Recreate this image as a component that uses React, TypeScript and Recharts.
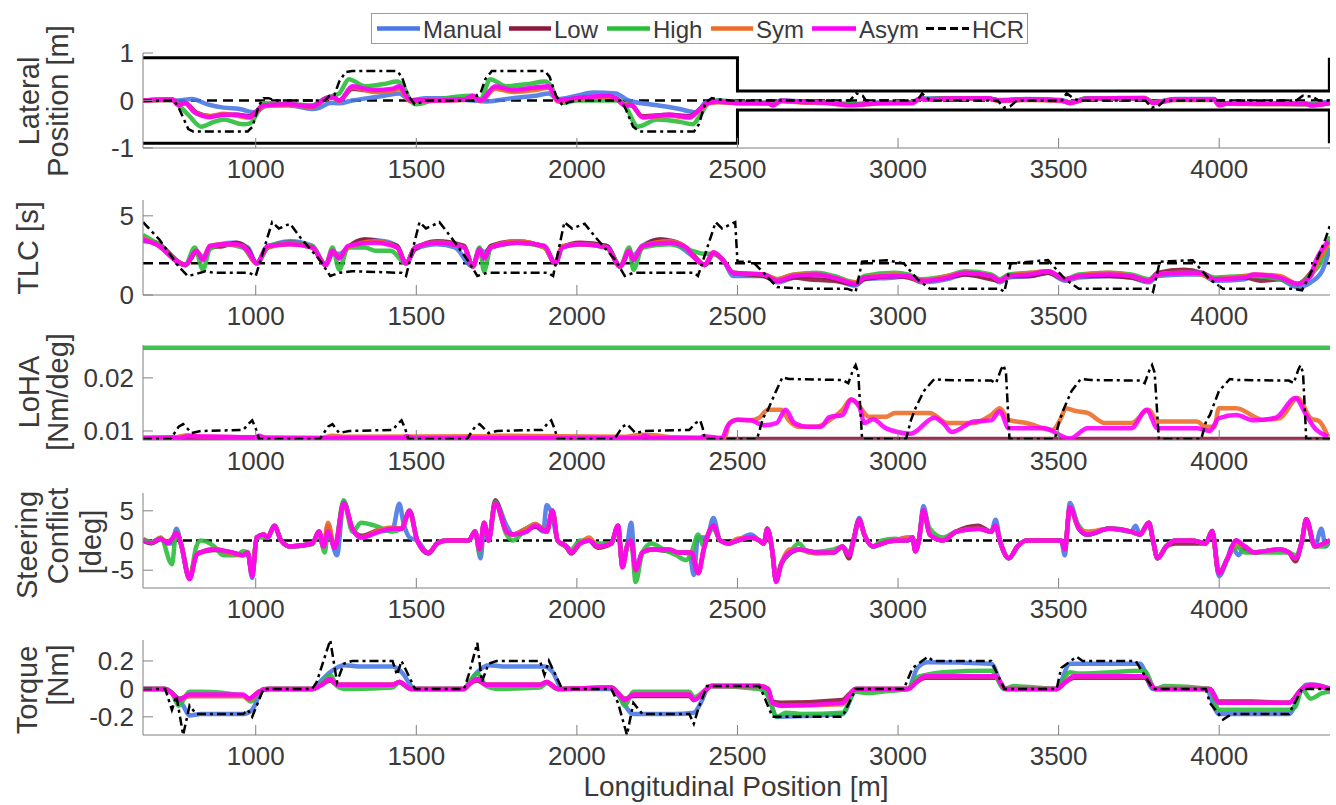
import React from 'react';
import { LineChart, Line, XAxis, YAxis, ReferenceLine } from 'recharts';

type P = [number, number][];

const FONT = '"Liberation Sans", Arial, sans-serif';
const X_MIN = 649;
const X_MAX = 4345;
const xTicks = [1000, 1500, 2000, 2500, 3000, 3500, 4000];

const seriesNames = ['Manual', 'Low', 'High', 'Sym', 'Asym', 'HCR'];
const seriesColors = ['#4a78e6', '#8c183c', '#2cbd3c', '#ec6e2a', '#ff00ff', '#000000'];

// ---------- Panel 1: Lateral position ----------
const latBoundUpper: P = [[649, 0.9], [2500, 0.9], [2500, 0.2], [4343, 0.2], [4343, 0.9]];
const latBoundLower: P = [[649, -0.9], [2500, -0.9], [2500, -0.2], [4343, -0.2], [4343, -0.9]];
const latHCR: P = [[649,0],[745,0],[760,-0.15],[790,-0.6],[805,-0.65],[975,-0.65],[990,-0.55],[1010,-0.1],[1025,0.05],[1040,0.05],[1060,0],[1215,0],[1230,0.1],[1245,0.12],[1260,0.4],[1280,0.6],[1300,0.62],[1440,0.62],[1455,0.5],[1475,0.1],[1495,-0.08],[1510,-0.05],[1530,0],[1680,0],[1690,0.12],[1700,0.15],[1715,0.45],[1735,0.62],[1900,0.62],[1915,0.5],[1935,0.1],[1955,-0.1],[1975,-0.03],[2000,0],[2135,0],[2150,-0.15],[2175,-0.55],[2195,-0.65],[2365,-0.65],[2380,-0.5],[2400,-0.05],[2420,0.05],[2440,0.02],[2480,0],[2850,0],[2870,0.15],[2890,0.1],[2900,0],[3060,0],[3075,0.15],[3090,0.05],[3100,0],[3310,0],[3330,-0.15],[3350,-0.12],[3370,0],[3510,0],[3525,0.15],[3545,0.05],[3560,0],[3770,0],[3790,-0.15],[3810,-0.12],[3830,0],[4240,0],[4260,0.1],[4290,0.08],[4310,0],[4345,0]];
const latManual: P = [[649,0],[700,0.01],[760,0],[801,0.03],[850,-0.08],[900,-0.15],[950,-0.18],[996,-0.25],[1037,-0.1],[1100,-0.1],[1176,-0.18],[1200,-0.15],[1232,-0.05],[1260,-0.06],[1300,0.0],[1350,0.05],[1400,0.1],[1447,0.15],[1482,0.0],[1530,0.05],[1600,0.05],[1676,0.0],[1718,-0.02],[1800,0.05],[1870,0.1],[1913,0.15],[1940,0.03],[2000,0.1],[2050,0.17],[2121,0.15],[2160,0.0],[2250,-0.1],[2320,-0.18],[2371,-0.25],[2400,-0.05],[2440,0],[2500,-0.05],[2595,-0.05],[2610,-0.08],[2636,0],[2700,-0.02],[2780,-0.04],[2854,-0.08],[2950,-0.04],[3045,-0.03],[3070,0.04],[3150,0.05],[3277,0.05],[3317,0.01],[3400,0.03],[3508,0.01],[3535,-0.04],[3590,0.05],[3680,0.04],[3767,0.05],[3794,-0.04],[3862,0.03],[3985,0.03],[3999,-0.08],[4026,-0.05],[4150,-0.06],[4271,-0.08],[4300,-0.05],[4345,-0.03]];
const latLow: P = [[649,0],[740,0.02],[760,-0.08],[780,-0.05],[815,-0.25],[860,-0.33],[900,-0.3],[940,-0.3],[982,-0.33],[1000,-0.25],[1024,-0.1],[1100,-0.08],[1176,-0.13],[1218,0.03],[1240,0.06],[1260,0.0],[1301,0.25],[1340,0.22],[1371,0.2],[1426,0.22],[1447,0.27],[1482,0.0],[1550,0.0],[1650,0.02],[1676,0.08],[1700,0.0],[1746,0.27],[1801,0.2],[1871,0.25],[1913,0.28],[1940,0.0],[2000,0.04],[2100,0.08],[2121,0.05],[2149,-0.08],[2170,-0.1],[2204,-0.33],[2288,-0.3],[2350,-0.33],[2380,-0.2],[2410,-0.05],[2440,-0.03],[2500,-0.05],[2595,-0.06],[2610,-0.1],[2636,-0.01],[2700,-0.03],[2780,-0.05],[2854,-0.09],[2950,-0.05],[3045,-0.05],[3070,0.04],[3086,0.02],[3150,0.04],[3277,0.04],[3317,0],[3400,0.02],[3508,0],[3535,-0.05],[3590,0.04],[3680,0.05],[3767,0.05],[3794,-0.05],[3862,0.02],[3985,0.02],[3999,-0.09],[4026,-0.06],[4150,-0.07],[4271,-0.07],[4285,-0.1],[4345,-0.05]];
const latHigh: P = [[649,0],[740,0.02],[760,-0.1],[790,-0.3],[830,-0.55],[870,-0.45],[900,-0.4],[960,-0.5],[982,-0.48],[1010,-0.2],[1024,-0.05],[1100,-0.08],[1176,-0.1],[1218,0.05],[1240,0.1],[1260,0.15],[1290,0.45],[1340,0.3],[1400,0.35],[1440,0.4],[1460,0.3],[1482,0.0],[1500,-0.08],[1550,0.0],[1676,0.1],[1700,0.02],[1730,0.45],[1780,0.3],[1850,0.35],[1900,0.4],[1920,0.3],[1940,0.0],[1960,-0.05],[2000,0.0],[2121,0.0],[2149,-0.1],[2190,-0.55],[2250,-0.4],[2320,-0.45],[2360,-0.5],[2385,-0.3],[2410,-0.05],[2440,0],[2500,-0.04],[2595,-0.05],[2610,-0.09],[2636,0],[2700,-0.03],[2780,-0.04],[2854,-0.08],[2950,-0.05],[3045,-0.04],[3070,0.05],[3086,0.03],[3150,0.04],[3277,0.05],[3317,0],[3400,0.02],[3508,0],[3535,-0.04],[3590,0.05],[3680,0.05],[3767,0.05],[3794,-0.04],[3862,0.02],[3985,0.02],[3999,-0.09],[4026,-0.06],[4150,-0.06],[4271,-0.07],[4285,-0.09],[4345,-0.04]];
const latSym: P = [[649,0],[740,0.01],[760,-0.09],[780,-0.06],[812,-0.26],[857,-0.33],[900,-0.28],[940,-0.32],[982,-0.36],[1000,-0.27],[1024,-0.12],[1100,-0.1],[1176,-0.13],[1218,0.04],[1240,0.07],[1260,-0.01],[1301,0.28],[1340,0.22],[1371,0.18],[1426,0.2],[1447,0.25],[1482,-0.02],[1550,0.0],[1650,0.01],[1676,0.08],[1700,-0.01],[1746,0.25],[1801,0.18],[1871,0.22],[1913,0.27],[1940,-0.02],[2000,0.03],[2100,0.07],[2121,0.04],[2149,-0.09],[2170,-0.1],[2204,-0.35],[2288,-0.32],[2350,-0.36],[2380,-0.22],[2410,-0.06],[2440,-0.03],[2500,-0.06],[2595,-0.06],[2610,-0.1],[2636,-0.01],[2700,-0.04],[2780,-0.06],[2854,-0.1],[2950,-0.06],[3045,-0.05],[3070,0.04],[3086,0.02],[3150,0.03],[3277,0.04],[3317,-0.01],[3400,0.01],[3508,-0.01],[3535,-0.05],[3590,0.03],[3680,0.05],[3767,0.06],[3794,-0.05],[3862,0.01],[3985,0.01],[3999,-0.1],[4026,-0.07],[4150,-0.08],[4271,-0.08],[4285,-0.1],[4345,-0.06]];
const latAsym: P = [[649,0],[740,0.02],[760,-0.1],[780,-0.05],[810,-0.25],[857,-0.35],[900,-0.3],[940,-0.3],[982,-0.35],[1000,-0.25],[1024,-0.1],[1100,-0.08],[1176,-0.12],[1218,0.05],[1240,0.08],[1260,0.0],[1301,0.3],[1340,0.25],[1371,0.22],[1426,0.25],[1447,0.3],[1482,0.0],[1550,0.0],[1650,0.02],[1676,0.1],[1700,0.0],[1746,0.3],[1801,0.22],[1871,0.28],[1913,0.3],[1940,0.0],[2000,0.05],[2100,0.1],[2121,0.05],[2149,-0.1],[2170,-0.1],[2204,-0.35],[2288,-0.3],[2350,-0.35],[2380,-0.2],[2410,-0.05],[2440,-0.02],[2500,-0.05],[2550,-0.05],[2595,-0.05],[2610,-0.1],[2636,0],[2700,-0.03],[2780,-0.05],[2854,-0.1],[2950,-0.05],[3045,-0.05],[3070,0.05],[3086,0.02],[3150,0.04],[3277,0.05],[3317,0],[3400,0.02],[3508,0.0],[3535,-0.05],[3590,0.04],[3680,0.05],[3767,0.05],[3794,-0.05],[3862,0.02],[3985,0.02],[3999,-0.1],[4026,-0.06],[4150,-0.07],[4271,-0.07],[4285,-0.1],[4345,-0.05]];

// ---------- Panel 2: TLC ----------
const tlcHCR: P = [[649,4.6],[700,3.5],[760,1.8],[788,1.2],[810,1.3],[843,1.5],[870,1.4],[980,1.4],[1000,1.2],[1051,4.6],[1072,4.2],[1107,4.5],[1140,3.6],[1200,2.2],[1232,1.2],[1260,1.4],[1300,1.5],[1454,1.4],[1468,1.2],[1510,4.6],[1530,4.2],[1572,4.6],[1610,3.6],[1660,2.2],[1690,1.2],[1720,1.4],[1910,1.4],[1926,1.2],[1961,4.6],[1985,4.2],[2024,4.5],[2060,3.6],[2120,2.2],[2149,1.2],[2176,1.4],[2364,1.4],[2377,1.2],[2432,4.6],[2452,4.2],[2493,4.6],[2500,2.1],[2548,2.1],[2600,1.0],[2623,0.5],[2700,0.4],[2841,0.4],[2868,0.2],[2888,2.1],[2963,2.2],[3018,2.0],[3060,1.0],[3099,0.4],[3317,0.4],[3331,0.2],[3351,2.0],[3467,2.2],[3520,1.0],[3563,0.4],[3781,0.4],[3794,0.2],[3815,2.1],[3917,2.2],[3970,1.0],[4012,0.4],[4230,0.4],[4258,0.3],[4300,2.0],[4330,3.5],[4345,4.4]];
const tlcManual: P = [[649,3.4],[690,3.3],[781,1.9],[815,2.7],[836,2.4],[857,3.0],[930,3.3],[975,3.0],[1003,2.0],[1037,3.0],[1107,3.4],[1176,3.1],[1218,1.9],[1239,2.6],[1260,2.6],[1287,3.0],[1340,3.5],[1400,3.4],[1440,3.1],[1468,2.0],[1496,2.9],[1565,3.2],[1620,3.0],[1676,1.8],[1697,2.9],[1711,2.7],[1732,3.0],[1815,3.3],[1899,3.1],[1933,2.0],[1954,3.0],[2010,3.2],[2093,3.1],[2135,1.8],[2163,2.8],[2176,2.5],[2204,3.1],[2260,3.5],[2300,3.3],[2364,2.4],[2398,1.9],[2425,2.6],[2459,2.1],[2486,1.2],[2582,1.2],[2623,0.8],[2677,1.1],[2745,1.2],[2800,1.0],[2868,0.6],[2895,1.0],[2990,1.1],[3031,1.2],[3072,0.8],[3154,1.0],[3208,1.3],[3290,1.1],[3317,0.8],[3345,1.1],[3413,1.2],[3467,1.4],[3522,0.9],[3563,1.1],[3658,1.2],[3726,1.1],[3781,0.8],[3808,1.2],[3890,1.3],[3944,1.3],[3985,0.9],[4080,1.0],[4108,1.2],[4189,1.0],[4244,0.5],[4285,0.8],[4320,1.5],[4345,3.0]];
const tlcLow: P = [[649,3.5],[690,3.3],[781,1.9],[815,2.7],[836,2.3],[857,3.0],[900,3.1],[940,3.3],[975,2.9],[1003,2.0],[1037,3.0],[1107,3.3],[1176,3.0],[1218,1.9],[1239,2.7],[1260,2.4],[1287,3.0],[1340,3.5],[1400,3.3],[1440,3.1],[1468,2.0],[1496,2.9],[1565,3.4],[1649,3.1],[1676,1.8],[1697,2.8],[1711,2.4],[1732,3.1],[1815,3.4],[1899,3.0],[1933,2.0],[1954,3.0],[2010,3.3],[2093,3.1],[2135,1.8],[2163,2.7],[2176,2.3],[2204,3.0],[2260,3.5],[2300,3.4],[2340,3.0],[2364,2.5],[2398,1.9],[2425,2.6],[2459,2.1],[2486,1.4],[2582,1.2],[2623,0.9],[2677,1.1],[2720,1.0],[2800,0.9],[2868,0.7],[2895,1.0],[2990,1.2],[3031,1.1],[3072,0.9],[3154,1.1],[3208,1.3],[3290,1.0],[3317,0.9],[3345,1.2],[3413,1.2],[3467,1.4],[3522,1.0],[3563,1.2],[3658,1.2],[3726,1.1],[3781,0.9],[3808,1.4],[3890,1.6],[3944,1.4],[3985,1.0],[4080,1.1],[4130,0.9],[4189,1.0],[4244,0.7],[4285,1.4],[4310,2.2],[4339,3.3]];
const tlcHigh: P = [[649,3.8],[690,3.3],[781,1.9],[810,3.0],[836,1.6],[857,2.9],[900,3.2],[960,3.0],[1003,2.0],[1037,3.1],[1107,3.3],[1176,3.1],[1218,1.9],[1239,3.0],[1260,1.6],[1287,3.0],[1340,3.0],[1371,2.8],[1420,2.8],[1468,2.0],[1496,3.0],[1565,3.3],[1649,3.0],[1676,1.8],[1697,3.0],[1711,1.5],[1732,3.0],[1815,3.3],[1899,3.0],[1933,2.0],[1954,3.0],[2010,3.2],[2093,3.0],[2135,1.8],[2163,3.0],[2176,1.6],[2204,3.0],[2288,3.2],[2357,2.8],[2398,2.6],[2425,2.6],[2459,2.1],[2486,1.4],[2582,1.3],[2623,1.0],[2677,1.3],[2745,1.4],[2800,1.2],[2868,0.8],[2895,1.2],[2990,1.4],[3031,1.3],[3072,1.0],[3154,1.2],[3208,1.5],[3290,1.3],[3317,1.0],[3345,1.3],[3413,1.4],[3467,1.5],[3522,1.0],[3563,1.3],[3658,1.4],[3726,1.3],[3781,1.0],[3808,1.3],[3890,1.4],[3944,1.4],[3985,1.1],[4080,1.2],[4108,1.2],[4189,1.0],[4244,0.7],[4285,1.3],[4320,2.2],[4345,3.7]];
const tlcSym: P = [[649,3.6],[690,3.2],[781,1.9],[815,2.8],[836,2.3],[857,3.1],[900,3.2],[960,3.1],[1003,2.0],[1037,3.0],[1107,3.2],[1176,3.0],[1218,1.9],[1239,2.8],[1260,2.4],[1287,3.0],[1371,3.4],[1440,3.0],[1468,2.0],[1496,3.0],[1565,3.3],[1649,3.0],[1676,1.8],[1697,2.9],[1711,2.4],[1732,3.0],[1815,3.4],[1899,3.0],[1933,2.0],[1954,3.1],[2010,3.2],[2093,3.0],[2135,1.8],[2163,2.8],[2176,2.3],[2204,3.1],[2288,3.4],[2340,3.0],[2364,2.4],[2398,1.9],[2425,2.7],[2459,2.1],[2486,1.4],[2582,1.3],[2623,1.0],[2677,1.3],[2745,1.3],[2800,1.1],[2868,0.8],[2895,1.1],[2990,1.3],[3031,1.2],[3072,0.9],[3154,1.2],[3208,1.4],[3290,1.2],[3317,0.9],[3345,1.2],[3413,1.4],[3467,1.5],[3522,1.0],[3563,1.2],[3658,1.4],[3726,1.2],[3781,0.9],[3808,1.3],[3890,1.4],[3944,1.3],[3985,1.0],[4080,1.2],[4108,1.3],[4189,1.2],[4244,0.7],[4285,1.2],[4310,2.2],[4339,3.2]];
const tlcAsym: P = [[649,3.5],[690,3.2],[781,1.9],[815,2.8],[836,2.2],[857,3.1],[900,3.2],[940,3.2],[975,2.8],[1003,2.0],[1037,3.1],[1107,3.2],[1176,3.0],[1218,1.9],[1239,2.8],[1260,2.3],[1287,3.1],[1371,3.3],[1440,3.0],[1468,2.0],[1496,3.0],[1565,3.3],[1649,3.0],[1676,1.8],[1697,2.9],[1711,2.3],[1732,3.0],[1815,3.3],[1899,3.1],[1933,2.0],[1954,3.0],[2010,3.2],[2093,3.0],[2135,1.8],[2163,2.8],[2176,2.2],[2204,3.1],[2288,3.3],[2340,3.0],[2364,2.4],[2398,1.9],[2425,2.7],[2459,2.1],[2486,1.4],[2582,1.3],[2623,0.9],[2677,1.2],[2745,1.3],[2800,1.1],[2868,0.7],[2895,1.1],[2990,1.2],[3031,1.2],[3072,0.9],[3154,1.1],[3208,1.4],[3290,1.2],[3317,0.9],[3345,1.2],[3413,1.3],[3467,1.5],[3522,1.0],[3563,1.2],[3658,1.3],[3726,1.2],[3781,0.9],[3808,1.3],[3890,1.4],[3944,1.4],[3985,1.0],[4080,1.1],[4108,1.3],[4189,1.1],[4244,0.7],[4285,1.2],[4298,2.0],[4339,3.4]];

// ---------- Panel 3: LoHA ----------
const lohaLow: P = [[649,0.0085],[4345,0.0085]];
const lohaHigh: P = [[649,0.0257],[4345,0.0257]];
const lohaHCR: P = [[649,0.0085],[735,0.0085],[760,0.0108],[774,0.0113],[801,0.0096],[830,0.01],[961,0.0102],[980,0.0115],[989,0.012],[1000,0.0105],[1010,0.0085],[1200,0.0085],[1225,0.0108],[1239,0.0113],[1260,0.0096],[1290,0.01],[1426,0.0102],[1445,0.0115],[1454,0.012],[1465,0.0105],[1475,0.0085],[1658,0.0085],[1683,0.0108],[1697,0.0113],[1725,0.0096],[1750,0.01],[1892,0.0102],[1910,0.0115],[1920,0.012],[1930,0.0105],[1940,0.0085],[2117,0.0085],[2142,0.0108],[2156,0.0113],[2183,0.0096],[2210,0.01],[2350,0.0102],[2370,0.0115],[2384,0.012],[2392,0.0105],[2398,0.0085],[2561,0.0085],[2580,0.0125],[2595,0.014],[2620,0.0175],[2640,0.0201],[2660,0.0198],[2827,0.0196],[2845,0.019],[2860,0.0215],[2868,0.0224],[2876,0.021],[2888,0.0085],[3025,0.0085],[3040,0.012],[3052,0.014],[3080,0.0175],[3113,0.0198],[3140,0.0196],[3290,0.0195],[3305,0.019],[3320,0.0215],[3328,0.0224],[3336,0.021],[3347,0.0085],[3488,0.0085],[3503,0.012],[3515,0.014],[3540,0.0175],[3569,0.0198],[3600,0.0196],[3753,0.0195],[3768,0.019],[3783,0.0215],[3791,0.0224],[3799,0.021],[3812,0.0085],[3944,0.0085],[3960,0.012],[3971,0.013],[3999,0.0175],[4033,0.0198],[4060,0.0196],[4217,0.0195],[4232,0.019],[4246,0.0215],[4253,0.0224],[4261,0.021],[4271,0.0085],[4345,0.0085]];
const lohaSym: P = [[649,0.0087],[740,0.0087],[790,0.0092],[830,0.0089],[1000,0.0088],[1200,0.0087],[1240,0.0091],[1280,0.0089],[1700,0.009],[1750,0.0091],[2150,0.0089],[2200,0.0093],[2240,0.0092],[2300,0.0088],[2459,0.0087],[2475,0.0115],[2500,0.0121],[2540,0.012],[2568,0.0125],[2595,0.014],[2636,0.014],[2660,0.012],[2691,0.0108],[2745,0.0108],[2786,0.012],[2827,0.014],[2854,0.016],[2875,0.015],[2909,0.0127],[2963,0.0127],[2990,0.0134],[3099,0.0134],[3154,0.0115],[3236,0.0115],[3290,0.013],[3317,0.0143],[3345,0.0121],[3400,0.0115],[3480,0.0102],[3508,0.0125],[3522,0.0143],[3550,0.0138],[3590,0.0134],[3644,0.0115],[3726,0.0115],[3781,0.014],[3808,0.0118],[3930,0.0118],[3958,0.0108],[3985,0.0108],[3999,0.0143],[4053,0.0143],[4135,0.0121],[4189,0.0124],[4244,0.0162],[4285,0.0124],[4312,0.0118],[4339,0.0089]];
const lohaAsym: P = [[649,0.0087],[740,0.0088],[760,0.0087],[790,0.009],[1000,0.0088],[1010,0.0091],[1030,0.0087],[1460,0.0087],[1470,0.009],[1490,0.0087],[2200,0.0087],[2210,0.0091],[2230,0.0087],[2384,0.0087],[2395,0.009],[2440,0.0087],[2452,0.0087],[2470,0.011],[2500,0.0121],[2541,0.012],[2582,0.0111],[2622,0.0115],[2650,0.014],[2677,0.0115],[2718,0.0108],[2760,0.0108],[2786,0.0126],[2827,0.013],[2854,0.0159],[2880,0.0145],[2895,0.0115],[2922,0.0122],[2963,0.0105],[3040,0.0095],[3113,0.0125],[3140,0.0115],[3168,0.0098],[3236,0.0118],[3290,0.012],[3317,0.0137],[3345,0.0105],[3454,0.0105],[3535,0.0086],[3590,0.0105],[3726,0.0105],[3774,0.014],[3808,0.0105],[3930,0.0105],[3971,0.01],[3999,0.0124],[4053,0.013],[4108,0.012],[4176,0.0125],[4237,0.0162],[4271,0.013],[4298,0.0105],[4339,0.009]];

// ---------- Panel 4: Steering conflict ----------
const steerManual: P = [[649,0],[676,-0.5],[704,0.3],[725,-0.5],[739,-0.5],[753,2],[767,-0.5],[794,-6.5],[815,-2.5],[829,-2],[871,-1.5],[926,-2],[960,-2.5],[975,-2],[989,-6.3],[1003,0.5],[1024,1],[1037,0.5],[1058,2.5],[1079,0],[1107,-1],[1176,-0.5],[1197,1.5],[1211,-1],[1225,1.5],[1253,-2.5],[1274,6.5],[1301,2],[1329,0.5],[1385,1.5],[1426,1.8],[1447,6.2],[1460,3],[1479,0.5],[1503,0],[1538,-2.1],[1565,-0.5],[1593,0],[1663,0],[1683,1.5],[1700,-3],[1711,2],[1725,0],[1746,6.5],[1781,2.5],[1801,1],[1843,1.5],[1871,2.5],[1895,1.5],[1906,6],[1924,4],[1940,0],[1968,-1],[1982,-2],[2010,-0.5],[2038,0],[2065,-1],[2107,-0.5],[2128,2.5],[2142,-4],[2156,-1],[2169,3],[2183,-5],[2204,-2],[2232,-1.5],[2288,-1.5],[2315,-2],[2350,-2],[2364,-5.8],[2377,0.5],[2405,0.5],[2425,3.8],[2446,0],[2473,-0.5],[2500,0],[2541,1],[2568,0],[2582,-0.5],[2593,2],[2609,-2],[2620,-6.8],[2636,-4],[2663,-2],[2691,-1.5],[2745,-2],[2800,-2],[2827,-1],[2847,-2.5],[2861,0],[2879,3.8],[2895,1],[2922,-1],[2950,-0.5],[2990,0],[3031,0.5],[3045,0.5],[3054,-1.8],[3065,0],[3079,5.8],[3099,1],[3140,0],[3181,1.5],[3249,2],[3290,1.5],[3304,3.5],[3317,0],[3345,-3],[3372,-1],[3399,0],[3454,0],[3508,0],[3519,-2.5],[3535,6.3],[3563,2],[3590,1],[3658,2],[3726,1.5],[3740,2.5],[3753,1],[3781,3],[3794,0],[3808,-3],[3835,-1],[3862,0],[3917,0],[3958,-0.5],[3978,1.6],[3999,-6],[4026,-3],[4040,-1],[4060,-2.5],[4080,-1],[4108,-2],[4189,-1.5],[4217,-2],[4237,-3],[4258,0],[4271,3.6],[4298,-1],[4318,2],[4332,-1],[4345,0]];
const steerLow: P = [[649,0],[676,-0.4],[704,0.2],[725,-0.4],[739,0.2],[753,1.2],[767,-0.5],[794,-6.3],[815,-2.3],[829,-2],[871,-1.6],[926,-2.1],[960,-2.4],[975,-2],[989,-5.8],[1003,0.5],[1024,1],[1037,0.5],[1058,2.4],[1079,0],[1107,-1],[1176,-0.6],[1197,1.5],[1211,-1],[1225,2.5],[1246,-1.2],[1274,6.4],[1301,2],[1329,0.8],[1385,1.8],[1426,2],[1454,2],[1479,5],[1503,0],[1538,-2.2],[1565,-0.5],[1593,0],[1663,0],[1683,1.5],[1697,-1.5],[1711,3],[1725,0],[1746,6.8],[1781,1.5],[1801,1],[1843,2],[1871,2.3],[1906,1.5],[1924,5],[1940,0],[1968,-1.2],[1982,-2.2],[2010,-0.5],[2038,0],[2065,-1.2],[2107,-0.5],[2128,2.5],[2142,-4.5],[2156,-1],[2169,0],[2183,-5],[2204,-2],[2232,-1.5],[2288,-1.8],[2315,-2],[2357,-2.2],[2378,-5.5],[2395,-1.5],[2405,0.5],[2425,2.5],[2446,0],[2473,-0.5],[2500,0],[2541,0.5],[2568,0],[2582,-0.5],[2593,2],[2609,-2],[2620,-6.8],[2636,-4],[2663,-2.2],[2691,-1.5],[2745,-2],[2800,-2],[2827,-1],[2847,-3],[2861,0],[2879,3.5],[2895,1],[2922,-1],[2950,-0.5],[2990,0],[3031,0],[3045,0.5],[3054,-1.8],[3065,0],[3079,5],[3099,1],[3140,0],[3181,1.5],[3249,2.5],[3290,1.5],[3304,2.5],[3317,0],[3345,-3],[3372,-1],[3399,0],[3454,0],[3508,0],[3519,-1.5],[3535,5.5],[3563,2],[3590,1],[3658,2],[3726,1.5],[3753,1],[3781,3],[3794,0],[3808,-3],[3835,-1],[3862,-0.5],[3917,-0.5],[3958,-0.5],[3978,1.6],[3999,-5.5],[4026,-3],[4053,0],[4080,-1.5],[4108,-2],[4189,-1.5],[4217,-2],[4237,-3.5],[4258,0],[4271,3.6],[4298,-1],[4326,-0.5],[4345,0]];
const steerHigh: P = [[649,0.3],[676,-0.3],[704,0.5],[739,-4],[753,1.5],[767,-0.5],[794,-6.3],[815,-1],[829,0],[871,-1],[900,-2.5],[940,-2.5],[960,-1.8],[975,-2],[989,-5.5],[1003,0.5],[1024,0.5],[1037,0.5],[1058,2.5],[1079,0],[1107,-1],[1176,-0.5],[1197,1],[1215,-2],[1225,1.5],[1246,-1],[1274,6.8],[1301,1.5],[1329,3],[1371,2.5],[1426,1.5],[1454,2],[1479,5],[1503,0],[1538,-2],[1565,-0.5],[1593,0],[1663,0],[1683,1.5],[1697,-2],[1711,2.5],[1725,0],[1746,6.5],[1781,1],[1801,0],[1843,2],[1871,2.8],[1906,1.5],[1924,5],[1940,0],[1968,-1],[1982,-1.5],[2010,0],[2038,0],[2065,-0.5],[2107,-0.5],[2128,2],[2142,-4],[2156,-1],[2169,0],[2183,-7],[2204,-2],[2232,-0.5],[2270,-1.5],[2310,-2.5],[2340,-3.3],[2357,-2],[2378,1],[2395,-1],[2405,0.5],[2425,2],[2446,0],[2473,-0.5],[2500,0],[2541,0.5],[2568,0],[2582,-0.5],[2593,2],[2609,-2],[2620,-6.5],[2636,-4],[2663,-2],[2691,-0.5],[2720,-2],[2800,-1.5],[2827,-1],[2847,-2],[2861,0],[2879,3.2],[2895,1],[2922,-1],[2950,0],[2990,0.3],[3031,0],[3045,0.5],[3054,-1.5],[3065,0],[3079,5],[3099,2],[3140,0.5],[3181,1.5],[3249,2],[3290,1.5],[3304,2.5],[3317,0],[3345,-3],[3372,-1],[3399,0],[3454,0],[3508,0],[3519,-1.5],[3535,5.3],[3563,2.5],[3590,1],[3658,2],[3726,1.5],[3753,1],[3781,3],[3794,0],[3808,-3],[3835,-1],[3862,0],[3917,0],[3958,-0.5],[3978,1.6],[3999,-5.5],[4026,-3],[4053,-1],[4080,-2],[4108,-2],[4189,-2],[4217,-2],[4237,-2.5],[4258,0],[4271,3.4],[4298,-1],[4326,-1],[4345,0.2]];
const steerSym: P = [[649,0],[676,-0.3],[704,0.4],[725,-0.3],[739,0.3],[753,1.2],[767,-0.5],[794,-6.4],[815,-2.4],[829,-2],[871,-1.4],[926,-2.2],[960,-2.5],[975,-2],[989,-5.8],[1003,0.5],[1024,1],[1037,0.5],[1058,2.5],[1079,0],[1107,-1],[1176,-0.5],[1197,1.5],[1211,-1],[1225,3],[1246,-1.2],[1274,6],[1301,2],[1329,0.5],[1385,1.8],[1426,2.2],[1454,2],[1479,4.8],[1503,0],[1538,-2],[1565,-0.5],[1593,0],[1663,0],[1683,1.5],[1697,-1.5],[1711,3],[1725,0],[1746,6.2],[1781,1.5],[1801,1],[1843,2],[1871,2.8],[1906,1.5],[1924,5],[1940,0],[1968,-1],[1982,-2],[2010,-0.5],[2038,0.5],[2065,-1],[2107,-0.5],[2128,2.5],[2142,-4.5],[2156,-1],[2169,0],[2183,-5],[2204,-2],[2232,-1.5],[2288,-1.5],[2315,-2],[2357,-2],[2378,-5.5],[2395,-1.5],[2405,0.5],[2425,2.5],[2446,0],[2473,-0.5],[2500,0.3],[2541,0.5],[2568,0],[2582,-0.5],[2593,2],[2609,-2],[2620,-6.8],[2636,-4],[2663,-1.5],[2691,-1.5],[2745,-2.2],[2800,-2],[2827,-1],[2847,-2.5],[2861,0],[2879,3.4],[2895,1],[2922,-1],[2950,-0.5],[2990,0],[3031,0.5],[3045,0.5],[3054,-1.8],[3065,0],[3079,5],[3099,1],[3140,0],[3181,1.5],[3249,2],[3290,1.5],[3304,2.5],[3317,0],[3345,-3],[3372,-1],[3399,0],[3454,0],[3508,0],[3519,-1.5],[3535,5.5],[3563,2],[3590,1.5],[3658,2],[3726,1.5],[3753,1],[3781,3],[3794,0],[3808,-3],[3835,-1],[3862,0],[3917,0],[3958,-0.5],[3978,1.6],[3999,-5.5],[4026,-3],[4053,-0.5],[4080,-1],[4108,-2],[4189,-1.5],[4217,-2],[4237,-3],[4258,0],[4271,3.6],[4298,-1],[4326,-0.5],[4345,0]];
const steerAsym: P = [[649,0],[676,-0.3],[704,0.3],[725,-0.4],[739,0.2],[753,1.3],[767,-0.5],[794,-6.5],[815,-2.5],[829,-2],[871,-1.5],[926,-2],[960,-2.5],[975,-2],[989,-6],[1003,0.5],[1024,1],[1037,0.5],[1058,2.5],[1079,0],[1107,-1],[1176,-0.5],[1197,1.5],[1211,-1],[1225,1.5],[1246,-1.2],[1274,6.3],[1301,2],[1329,0.5],[1385,1.5],[1426,2],[1454,2],[1479,5],[1503,0],[1538,-2.1],[1565,-0.5],[1593,0],[1663,0],[1683,1.5],[1697,-1.5],[1711,3],[1725,0],[1746,6.3],[1781,1.5],[1801,1],[1843,1.5],[1871,2.5],[1906,1.5],[1924,5],[1940,0],[1968,-1],[1982,-2],[2010,-0.5],[2038,0],[2065,-1],[2107,-0.5],[2128,2.5],[2142,-4.5],[2156,-1],[2169,0],[2183,-5],[2204,-2],[2232,-1.5],[2288,-1.5],[2315,-2],[2357,-2],[2378,-5.5],[2395,-1.5],[2405,0.5],[2425,2.5],[2446,0],[2473,-0.5],[2500,0],[2541,0.5],[2568,0],[2582,-0.5],[2593,2],[2609,-2],[2620,-7],[2636,-4],[2663,-2],[2691,-1.5],[2745,-2],[2800,-2],[2827,-1],[2847,-2.5],[2861,0],[2879,3.4],[2895,1],[2922,-1],[2950,-0.5],[2990,0],[3031,0],[3045,0.5],[3054,-1.8],[3065,0],[3079,5.1],[3099,1],[3140,0],[3181,1.5],[3249,2],[3290,1.5],[3304,2.5],[3317,0],[3345,-3],[3372,-1],[3399,0],[3454,0],[3508,0],[3519,-1.5],[3535,5.5],[3563,2],[3590,1],[3658,2],[3726,1.5],[3753,1],[3781,3],[3794,0],[3808,-3],[3835,-1],[3862,0],[3917,0],[3958,-0.5],[3978,1.6],[3999,-5.5],[4026,-3],[4053,0],[4080,-1],[4108,-2],[4189,-1.5],[4217,-2],[4237,-3],[4258,0],[4271,3.6],[4298,-1],[4326,-0.5],[4345,0]];

// ---------- Panel 5: Torque ----------
const torqHCR: P = [[649,0],[718,0],[739,-0.15],[753,-0.05],[774,-0.33],[794,-0.12],[815,-0.18],[961,-0.18],[975,-0.15],[989,-0.2],[1024,0],[1176,0],[1190,0.05],[1232,0.35],[1253,0.05],[1274,0.18],[1300,0.2],[1426,0.2],[1440,0.1],[1454,0.2],[1496,0],[1649,0],[1663,0.1],[1690,0.33],[1704,0.05],[1725,0.18],[1750,0.2],[1885,0.2],[1899,0.1],[1913,0.2],[1954,0],[2107,0],[2128,-0.1],[2156,-0.33],[2176,-0.1],[2204,-0.18],[2350,-0.18],[2364,-0.25],[2377,-0.15],[2405,0.02],[2568,0.02],[2582,-0.05],[2609,-0.2],[2827,-0.2],[2868,0.0],[3018,0.0],[3045,0.15],[3093,0.23],[3110,0.2],[3290,0.2],[3331,0],[3494,0],[3508,0.15],[3556,0.23],[3575,0.2],[3740,0.2],[3794,0],[3958,0],[3971,-0.1],[4012,-0.22],[4039,-0.18],[4217,-0.18],[4258,0],[4345,0]];
const torqManual: P = [[649,0],[718,0],[739,-0.03],[774,-0.12],[794,-0.19],[830,-0.18],[961,-0.18],[989,-0.15],[1024,0],[1176,0],[1200,0.05],[1232,0.12],[1274,0.17],[1320,0.16],[1426,0.16],[1454,0.12],[1496,0],[1649,0],[1663,0.04],[1690,0.12],[1725,0.17],[1770,0.16],[1899,0.16],[1925,0.12],[1954,0.0],[2107,0],[2130,-0.05],[2176,-0.18],[2300,-0.18],[2364,-0.17],[2390,-0.08],[2405,0.0],[2418,0.02],[2568,0.02],[2595,-0.05],[2623,-0.2],[2827,-0.18],[2870,0],[3031,0],[3060,0.15],[3093,0.19],[3290,0.18],[3331,0],[3494,0],[3535,0.18],[3753,0.18],[3794,0],[3958,0],[3999,-0.18],[4217,-0.18],[4258,0],[4271,0.03],[4298,0.03],[4345,0]];
const torqLow: P = [[649,0],[718,0],[739,-0.03],[760,-0.07],[794,-0.05],[961,-0.05],[980,-0.07],[1010,-0.02],[1037,0],[1176,0],[1205,0.03],[1232,0.06],[1253,0.03],[1426,0.03],[1447,0.05],[1482,0],[1649,0],[1663,0.03],[1690,0.06],[1718,0.03],[1885,0.03],[1906,0.05],[1940,0],[2107,0.01],[2128,-0.03],[2149,-0.07],[2176,-0.05],[2350,-0.05],[2364,-0.08],[2405,0.0],[2418,0.02],[2568,0.02],[2595,0],[2609,-0.09],[2636,-0.1],[2827,-0.08],[2847,-0.04],[2868,0],[3031,0],[3058,0.05],[3086,0.08],[3304,0.08],[3335,0],[3494,0],[3522,0.05],[3549,0.08],[3767,0.08],[3801,0],[3971,0],[3999,-0.09],[4100,-0.09],[4217,-0.1],[4258,0],[4285,0.02],[4345,0]];
const torqHigh: P = [[649,0],[718,0],[739,-0.03],[760,-0.12],[794,-0.02],[830,-0.02],[961,-0.05],[985,-0.09],[1010,-0.02],[1037,0],[1176,0],[1205,0.04],[1232,0.1],[1253,0.02],[1274,0.0],[1300,0.0],[1426,0.01],[1447,0.05],[1482,0],[1649,0],[1663,0.04],[1690,0.11],[1718,0.02],[1750,0.0],[1885,0.01],[1906,0.04],[1940,0],[2107,0.01],[2128,-0.03],[2149,-0.12],[2176,-0.02],[2350,-0.02],[2364,-0.06],[2405,0.0],[2418,0.02],[2568,0.0],[2595,-0.05],[2623,-0.2],[2650,-0.17],[2700,-0.18],[2827,-0.17],[2868,-0.02],[2900,-0.03],[2950,-0.02],[3031,0],[3058,0.08],[3086,0.1],[3140,0.12],[3290,0.13],[3331,0],[3360,0.02],[3494,0],[3535,0.12],[3563,0.11],[3767,0.13],[3801,0.0],[3830,0.02],[3971,0],[3999,-0.15],[4217,-0.15],[4237,-0.13],[4258,0],[4285,-0.07],[4320,-0.03],[4345,-0.02]];
const torqSym: P = [[649,0],[718,0],[739,-0.03],[760,-0.08],[794,-0.05],[961,-0.05],[980,-0.08],[1010,-0.02],[1037,0],[1176,0],[1205,0.03],[1232,0.07],[1253,0.03],[1426,0.03],[1447,0.05],[1482,0],[1649,0],[1663,0.03],[1690,0.07],[1718,0.03],[1885,0.03],[1906,0.05],[1940,0],[2107,0.01],[2128,-0.03],[2149,-0.08],[2176,-0.04],[2350,-0.04],[2364,-0.08],[2405,0.0],[2418,0.02],[2568,0.02],[2595,0],[2609,-0.1],[2636,-0.12],[2827,-0.11],[2847,-0.05],[2868,0],[3031,0],[3058,0.05],[3086,0.09],[3304,0.09],[3335,0],[3494,0],[3522,0.05],[3549,0.09],[3767,0.09],[3801,0],[3971,0],[3999,-0.1],[4217,-0.1],[4258,0],[4285,0.03],[4345,0]];
const torqAsym: P = [[649,0],[718,0],[739,-0.03],[760,-0.08],[794,-0.04],[961,-0.04],[980,-0.07],[1010,-0.02],[1037,0],[1176,0],[1205,0.03],[1232,0.07],[1253,0.03],[1426,0.03],[1447,0.05],[1482,0],[1649,0],[1663,0.03],[1690,0.07],[1718,0.03],[1885,0.03],[1906,0.05],[1940,0],[2107,0.01],[2128,-0.03],[2149,-0.08],[2176,-0.04],[2350,-0.04],[2364,-0.08],[2405,0.0],[2418,0.02],[2568,0.02],[2595,0],[2609,-0.1],[2636,-0.12],[2827,-0.1],[2847,-0.05],[2868,0],[3031,0],[3058,0.05],[3086,0.09],[3304,0.09],[3335,0],[3494,0],[3522,0.05],[3549,0.09],[3767,0.09],[3801,0],[3971,0],[3999,-0.1],[4217,-0.1],[4258,0],[4285,0.03],[4345,0]];

// ---------- rendering ----------
type LineSpec = { data: P; color: string; width: number; dash?: string; opacity?: number; smooth?: boolean };

const pts = (p: P) => p.map(([x, y]) => ({ x, y }));

const colored = (arrs: (P | null)[]): LineSpec[] =>
  arrs
    .map((a, i) => (a ? { data: a, color: seriesColors[i], width: 4.5, opacity: 0.9, smooth: true } : null))
    .filter((v): v is LineSpec => v !== null);

const hcr = (a: P): LineSpec => ({ data: a, color: '#000', width: 2.5, dash: '9 4 3 4' });

type PanelProps = {
  top: number;
  domain: [number, number];
  ticks: number[];
  fmt?: (v: number) => string;
  lines: LineSpec[];
  refs?: { y: number; dash: string }[];
};

function Panel({ top, domain, ticks, fmt, lines, refs }: PanelProps) {
  const mTop = 20;
  const plotH = 95;
  const xH = 36;
  const tickStyle = { fill: '#3a3a3a', fontSize: 26, fontFamily: FONT };
  return (
    <div style={{ position: 'absolute', left: 0, top: top - mTop }}>
      <LineChart width={1336} height={mTop + plotH + xH} margin={{ top: mTop, right: 6, bottom: 0, left: 0 }}>
        <XAxis
          type="number"
          dataKey="x"
          domain={[X_MIN, X_MAX]}
          ticks={xTicks}
          interval={0}
          allowDataOverflow
          height={xH}
          tickSize={-10}
          tickMargin={22}
          stroke="#808080"
          tick={tickStyle}
        />
        <YAxis
          type="number"
          domain={domain}
          ticks={ticks}
          interval={0}
          allowDataOverflow
          width={143}
          tickSize={-10}
          tickMargin={19}
          stroke="#808080"
          tick={tickStyle}
          tickFormatter={fmt}
        />
        {(refs || []).map((r, i) => (
          <ReferenceLine key={'r' + i} y={r.y} stroke="#000" strokeWidth={2.5} strokeDasharray={r.dash} />
        ))}
        {lines.map((l, i) => (
          <Line
            key={i}
            data={pts(l.data)}
            dataKey="y"
            type={l.smooth ? 'monotoneX' : 'linear'}
            stroke={l.color}
            strokeWidth={l.width}
            strokeOpacity={l.opacity ?? 1}
            strokeDasharray={l.dash}
            dot={false}
            activeDot={false}
            isAnimationActive={false}
          />
        ))}
      </LineChart>
    </div>
  );
}

const legendLayout = [
  { line: [377, 420], text: 423 },
  { line: [509, 551], text: 554 },
  { line: [607, 650], text: 653 },
  { line: [711, 753], text: 756 },
  { line: [812, 856], text: 859 },
  { line: [926, 969], text: 972 },
];

export default function App() {
  const boundStyle = (a: P): LineSpec => ({ data: a, color: '#000', width: 3 });
  const T = (x: number, y: number, s: string, size = 29) => (
    <text
      x={x}
      y={y}
      transform={`rotate(-90 ${x} ${y})`}
      textAnchor="middle"
      dominantBaseline="central"
      fontSize={size}
      fontFamily={FONT}
      fill="#3a3a3a"
    >
      {s}
    </text>
  );
  return (
    <div style={{ position: 'absolute', left: 0, top: 0, width: 1336, height: 805, background: '#fff' }}>
      <Panel
        top={53}
        domain={[-1, 1]}
        ticks={[-1, 0, 1]}
        refs={[{ y: 0, dash: '10 6' }]}
        lines={[
          boundStyle(latBoundUpper),
          boundStyle(latBoundLower),
          ...colored([latManual, latLow, latHigh, latSym, latAsym]),
          hcr(latHCR),
        ]}
      />
      <Panel
        top={200}
        domain={[0, 6]}
        ticks={[0, 5]}
        refs={[{ y: 2, dash: '10 6' }]}
        lines={[...colored([tlcManual, tlcLow, tlcHigh, tlcSym, tlcAsym]), hcr(tlcHCR)]}
      />
      <Panel
        top={345}
        domain={[0.0083, 0.0262]}
        ticks={[0.01, 0.02]}
        fmt={(v) => v.toFixed(2)}
        lines={[
          ...colored([null, lohaLow, lohaHigh, lohaSym, lohaAsym]),
          hcr(lohaHCR),
        ]}
      />
      <Panel
        top={493}
        domain={[-8, 8]}
        ticks={[-5, 0, 5]}
        refs={[{ y: 0, dash: '9 4 3 4' }]}
        lines={colored([steerManual, steerLow, steerHigh, steerSym, steerAsym])}
      />
      <Panel
        top={640}
        domain={[-0.33, 0.35]}
        ticks={[-0.2, 0, 0.2]}
        fmt={(v) => (v === 0 ? '0' : v.toFixed(1))}
        lines={[...colored([torqManual, torqLow, torqHigh, torqSym, torqAsym]), hcr(torqHCR)]}
      />
      <svg width={1336} height={805} style={{ position: 'absolute', left: 0, top: 0, pointerEvents: 'none' }}>
        {T(29, 101, 'Lateral')}
        {T(58, 101, 'Position [m]')}
        {T(28, 248, 'TLC [s]')}
        {T(29, 392, 'LoHA')}
        {T(58, 392, '[Nm/deg]')}
        {T(27, 545, 'Steering')}
        {T(58, 536, 'Conflict')}
        {T(91, 542, '[deg]')}
        {T(27, 690, 'Torque')}
        {T(58, 675, '[Nm]')}
        <text x={736} y={786} textAnchor="middle" dominantBaseline="central" fontSize={28} fontFamily={FONT} fill="#3a3a3a">
          Longitudinal Position [m]
        </text>
        <rect x={371.5} y={13.5} width={656} height={30} fill="#fff" stroke="#9a9a9a" strokeWidth={1} />
        {legendLayout.map((l, i) => (
          <g key={i}>
            <line
              x1={l.line[0]}
              x2={l.line[1]}
              y1={28.5}
              y2={28.5}
              stroke={seriesColors[i]}
              strokeWidth={i === 5 ? 3 : 4.5}
              strokeDasharray={i === 5 ? '8 4' : undefined}
            />
            <text x={l.text} y={29} dominantBaseline="central" fontSize={24} fontFamily={FONT} fill="#3a3a3a">
              {seriesNames[i]}
            </text>
          </g>
        ))}
      </svg>
    </div>
  );
}
